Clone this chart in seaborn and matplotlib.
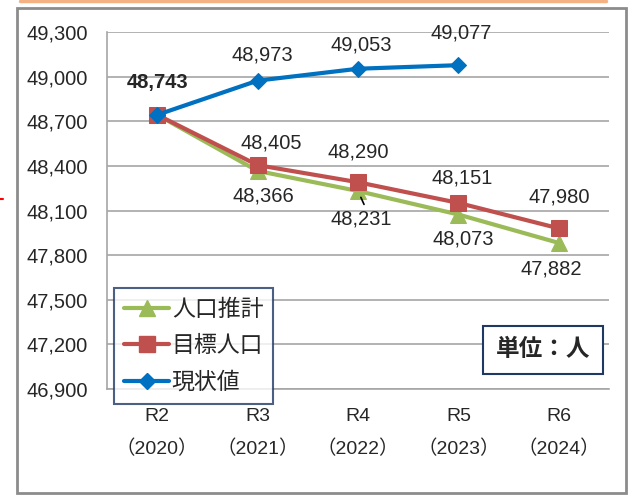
import numpy as np
import pandas as pd
import matplotlib
matplotlib.use("Agg")
import matplotlib.pyplot as plt
import seaborn as sns
from matplotlib.lines import Line2D
from matplotlib.patches import Rectangle

# Data
years = ["R2\n（2020）", "R3\n（2021）", "R4\n（2022）", "R5\n（2023）", "R6\n（2024）"]
suikei = [48743, 48366, 48231, 48073, 47882]      # 人口推計
mokuhyo = [48743, 48405, 48290, 48151, 47980]     # 目標人口
genjo = [48743, 48973, 49053, 49077]              # 現状値
yticks = [46900, 47200, 47500, 47800, 48100, 48400, 48700, 49000, 49300]

GREEN = "#9BBB59"
RED = "#C0504D"
BLUE = "#0070C0"
GRID = "#A6A6A6"
FS = 14.5

sns.set_style("white")
plt.rcParams["font.family"] = ["Liberation Sans", "Noto Sans CJK JP"]

W, H = 635, 498
fig = plt.figure(figsize=(W / 100, H / 100), dpi=100)
ax = fig.add_axes([107 / W, 1 - 389 / H, (609 - 107) / W, (389 - 32) / H])

pos = np.arange(len(years))
df_s = pd.DataFrame({"x": pos, "y": suikei})
df_m = pd.DataFrame({"x": pos, "y": mokuhyo})
df_g = pd.DataFrame({"x": pos[:len(genjo)], "y": genjo})

sns.lineplot(data=df_s, x="x", y="y", ax=ax, color=GREEN, lw=3, marker="^",
             markersize=11, markeredgecolor=GREEN, zorder=3)
sns.lineplot(data=df_m, x="x", y="y", ax=ax, color=RED, lw=3, marker="s",
             markersize=11, markeredgecolor=RED, zorder=4)
sns.lineplot(data=df_g, x="x", y="y", ax=ax, color=BLUE, lw=3, marker="D",
             markersize=8.5, markeredgecolor=BLUE, zorder=5)

ax.set_xlim(-0.5, len(years) - 0.5)
ax.set_ylim(46900, 49300)
ax.set_yticks(yticks)
ax.set_yticklabels([f"{v:,}" for v in yticks], fontsize=FS)
ax.set_xticks(pos)
ax.set_xticklabels(years, fontsize=FS - 0.5, linespacing=2.05)
ax.set_xticks(np.arange(-0.5, len(years)), minor=True)
ax.tick_params(axis="x", which="major", length=0, pad=13.5)
ax.tick_params(axis="x", which="minor", length=5, color=GRID, width=1.2)
ax.tick_params(axis="y", length=5, color=GRID, width=1.2, pad=9)
ax.set_xlabel("")
ax.set_ylabel("")
ax.grid(axis="y", color=GRID, lw=1.2)
for s in ["top", "right"]:
    ax.spines[s].set_visible(False)
for s in ["left", "bottom"]:
    ax.spines[s].set_color(GRID)
    ax.spines[s].set_linewidth(1.2)

# data labels (offsets in pixels)
def lab(i, v, dx, dy, bold=False):
    ax.annotate(f"{v:,}", (pos[i], v), xytext=(dx, dy), textcoords="offset pixels",
                ha="center", va="center", fontsize=FS,
                fontweight="bold" if bold else "normal", zorder=6)

lab(0, genjo[0], 0, 32, bold=True)
for i, dy in zip(range(1, 4), [26, 24, 32]):
    lab(i, genjo[i], 5 if i == 1 else 3, dy)
for i, (dx, dy) in zip(range(1, 5), [(14, 22), (0, 30), (4, 25), (0, 31)]):
    lab(i, mokuhyo[i], dx, dy)
for i, (dx, dy) in zip(range(1, 5), [(6, -25), (3, -28), (5, -24), (-8, -26)]):
    lab(i, suikei[i], dx, dy)
# leader line for 48,231
ax.annotate("", (pos[2], suikei[2]), xytext=(pos[2] + 0.06, suikei[2] - 90),
            arrowprops=dict(arrowstyle="-", color="black", lw=1.2, shrinkA=0, shrinkB=5))

handles = [
    Line2D([], [], color=GREEN, lw=3, marker="^", markersize=11, markeredgecolor=GREEN),
    Line2D([], [], color=RED, lw=3, marker="s", markersize=11, markeredgecolor=RED),
    Line2D([], [], color=BLUE, lw=3, marker="D", markersize=8.5, markeredgecolor=BLUE),
]
leg = ax.legend(handles, ["人口推計", "目標人口", "現状値"], loc="upper left",
                bbox_to_anchor=(114 / W, 1 - 288 / H), bbox_transform=fig.transFigure,
                fontsize=16.5, frameon=True, fancybox=False, handlelength=2.0,
                handletextpad=0.1, borderpad=0.42, labelspacing=0.6, borderaxespad=0)
leg.get_frame().set_edgecolor("#1F3864")
leg.get_frame().set_linewidth(1.5)
leg.set_zorder(10)

fig.text(543 / W, 1 - 350 / H, "単位：人", ha="center", va="center", fontsize=17,
         fontweight="bold", zorder=10,
         bbox=dict(boxstyle="square,pad=0.52", fc="white", ec="#1F3864", lw=1.5))

# outer frame and top rule
fig.patches.append(Rectangle((17 / W, 1 - 493 / H), (626 - 17) / W, (493 - 8) / H,
                             transform=fig.transFigure, fill=False, ec="#8C8C8C", lw=2))
fig.lines.append(Line2D([20 / W, 606 / W], [1 - 1 / H, 1 - 1 / H], transform=fig.transFigure,
                        color="#F4B183", lw=2.5))
fig.lines.append(Line2D([0, 3 / W], [1 - 199 / H, 1 - 199 / H], transform=fig.transFigure,
                        color="red", lw=1.5))

fig.savefig("out.png", dpi=100)
